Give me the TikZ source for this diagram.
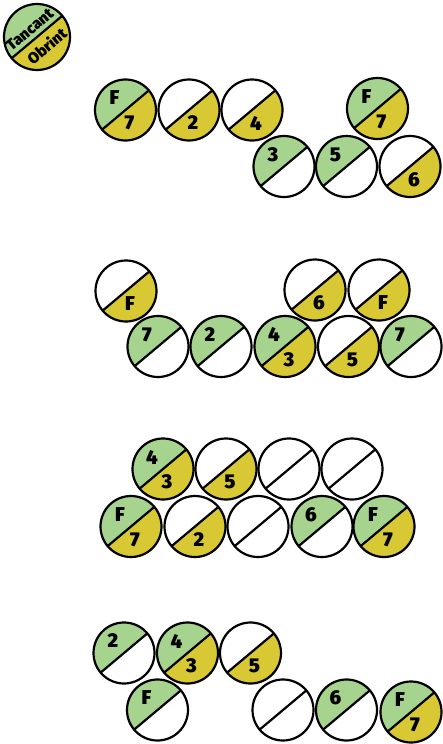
\documentclass[tikz,border=0pt]{standalone}
\usepackage{fontspec}
\newfontfamily\numfont{Fira Sans Black}
\usetikzlibrary{calc}
\definecolor{gr}{HTML}{A6D48E}
\definecolor{ye}{HTML}{D8C834}
\newcommand\R{30.5}
\newcommand\disc[7]{%
  \node[discnode] (#1) at (#2,-#3) {};
  \fill[#4] ([shift={(40:\R)}]#1.center) arc[start angle=40,end angle=220,radius=\R] -- cycle;
  \fill[#5] ([shift={(220:\R)}]#1.center) arc[start angle=220,end angle=400,radius=\R] -- cycle;
  \draw[divline] ([shift={(220:\R)}]#1.center) -- ([shift={(40:\R)}]#1.center);
  \draw[divline] (#1.center) circle[radius=\R];
  \node[lbl] (#1t) at ([shift={(-11,12)}]#1.center) {#6};
  \node[lbl] (#1b) at ([shift={(4,-13)}]#1.center) {#7};
}
\begin{document}
\begin{tikzpicture}[x=1pt,y=1pt,
  discnode/.style={circle,minimum size=61pt,inner sep=0pt,outer sep=0pt},
  divline/.style={line width=2.2pt,black},
  lbl/.style={font=\numfont\fontsize{20}{20}\selectfont,inner sep=0pt},
  legtext/.style={font=\numfont\fontsize{15.5}{15.5}\selectfont,rotate=40,inner sep=0pt}]
\useasboundingbox (0,0) rectangle (442,-744);
% legend
\node[discnode,minimum size=68pt] (leg) at (37,-37) {};
\fill[gr] ([shift={(40:33)}]leg.center) arc[start angle=40,end angle=220,radius=33] -- cycle;
\fill[ye] ([shift={(220:33)}]leg.center) arc[start angle=220,end angle=400,radius=33] -- cycle;
\draw[divline] ([shift={(220:33)}]leg.center) -- ([shift={(40:33)}]leg.center);
\draw[divline] (leg.center) circle[radius=33];
\node[legtext] (tancant) at ([shift={(-7.2,7.4)}]leg.center) {Tancant};
\node[legtext] (obrint) at ([shift={(9.6,-8.8)}]leg.center) {Obrint};
% group 1
\disc{a1}{125.5}{110}{gr}{ye}{F}{7}
\disc{a2}{189}{110}{white}{ye}{}{2}
\disc{a3}{252}{110}{white}{ye}{}{4}
\disc{a4}{377.5}{108.5}{gr}{ye}{F}{7}
\disc{b1}{284}{166.5}{gr}{white}{3}{}
\disc{b2}{346.5}{166.5}{gr}{white}{5}{}
\disc{b3}{410}{166.5}{white}{ye}{}{6}
% group 2
\disc{c1}{126}{291}{white}{ye}{}{F}
\disc{c2}{315}{290}{white}{ye}{}{6}
\disc{c3}{379}{290}{white}{ye}{}{F}
\disc{d1}{158}{346.5}{gr}{white}{7}{}
\disc{d2}{221}{346.5}{gr}{white}{2}{}
\disc{d3}{285}{346.5}{gr}{ye}{4}{3}
\disc{d4}{348.5}{346.5}{white}{ye}{}{5}
\disc{d5}{411}{346.5}{gr}{white}{7}{}
% group 3
\disc{e1}{163}{469}{gr}{ye}{4}{3}
\disc{e2}{226}{469}{white}{ye}{}{5}
\disc{e3}{289}{469}{white}{white}{}{}
\disc{e4}{352}{469}{white}{white}{}{}
\disc{f1}{131}{526.5}{gr}{ye}{F}{7}
\disc{f2}{195}{526.5}{white}{ye}{}{2}
\disc{f3}{258}{526.5}{white}{white}{}{}
\disc{f4}{322}{526.5}{gr}{white}{6}{}
\disc{f5}{384}{526.5}{gr}{ye}{F}{7}
% group 4
\disc{g1}{124}{653}{gr}{white}{2}{}
\disc{g2}{187.5}{653}{gr}{ye}{4}{3}
\disc{g3}{250.5}{653}{white}{ye}{}{5}
\disc{h1}{157.5}{710}{gr}{white}{F}{}
\disc{h2}{283}{710}{white}{white}{}{}
\disc{h3}{346.5}{710}{gr}{white}{6}{}
\disc{h4}{411}{712}{gr}{ye}{F}{7}
\end{tikzpicture}
\end{document}
